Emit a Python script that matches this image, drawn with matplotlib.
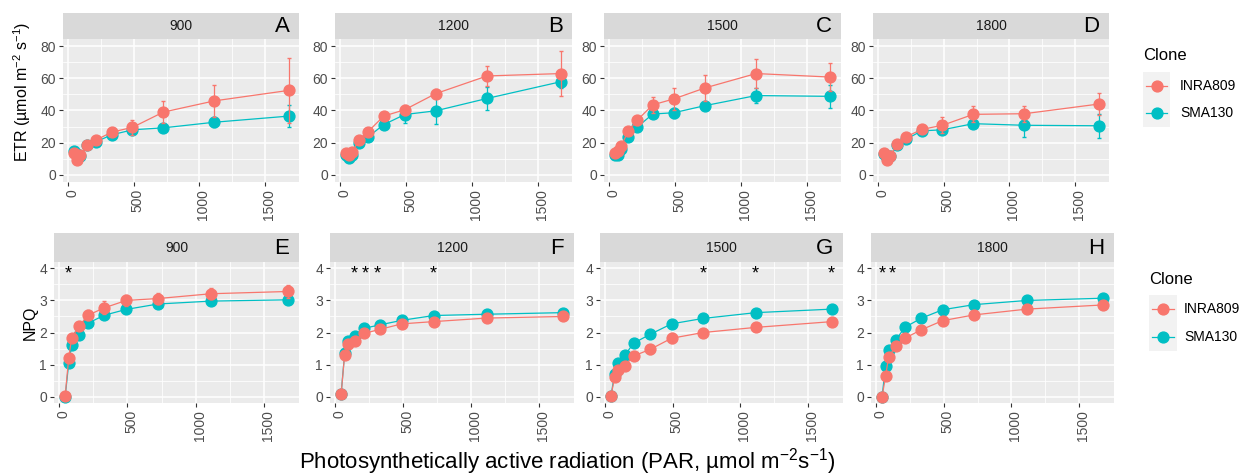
import numpy as np
import matplotlib
matplotlib.use("Agg")
import matplotlib.pyplot as plt
import matplotlib.transforms as mtrans

plt.rcParams['font.family'] = ['Liberation Sans', 'DejaVu Sans']
plt.rcParams['mathtext.fontset'] = 'custom'
plt.rcParams['mathtext.rm'] = 'Liberation Sans'
plt.rcParams['mathtext.it'] = 'Liberation Sans:italic'

# ---- data ----
par = [42, 68, 90, 145, 210, 330, 490, 725, 1115, 1680]
levels = ['900', '1200', '1500', '1800']
clones = ['INRA809', 'SMA130']

etr_inra = {
    '900':  [13.8, 9.5, 12.0, 18.5, 21.5, 26.5, 29.5, 39.0, 46.0, 52.5],
    '1200': [13.5, 12.0, 14.3, 21.8, 26.8, 36.5, 40.5, 50.5, 61.5, 63.0],
    '1500': [13.5, 15.0, 18.0, 27.2, 33.8, 43.5, 47.2, 54.0, 63.0, 60.8],
    '1800': [13.4, 9.2, 11.8, 19.0, 23.5, 28.2, 30.8, 37.6, 38.0, 44.0],
}
etr_inra_se = {
    '900':  [1.5, 1.5, 1.5, 2.0, 2.0, 2.0, 4.5, 7.0, 10.0, 20.0],
    '1200': [1.0, 1.0, 1.5, 2.0, 2.0, 2.5, 3.0, 3.0, 6.5, 14.0],
    '1500': [1.0, 1.5, 2.0, 2.5, 3.0, 5.0, 7.0, 8.0, 9.0, 8.5],
    '1800': [1.0, 1.0, 1.5, 2.0, 2.0, 2.5, 5.0, 5.0, 5.0, 7.0],
}
etr_sma = {
    '900':  [14.5, 13.0, 11.5, 18.5, 20.5, 24.8, 28.0, 29.2, 32.7, 36.5],
    '1200': [12.5, 10.2, 12.5, 19.5, 23.5, 31.2, 37.5, 39.8, 47.5, 58.0],
    '1500': [12.5, 12.0, 16.0, 23.8, 29.5, 37.8, 38.6, 43.0, 49.3, 48.8],
    '1800': [13.0, 10.5, 11.5, 18.4, 22.0, 27.3, 28.0, 31.8, 30.8, 30.5],
}
etr_sma_se = {
    '900':  [1.5, 1.5, 1.5, 1.5, 1.5, 2.0, 2.0, 2.0, 3.0, 7.0],
    '1200': [1.0, 1.0, 1.5, 2.0, 2.0, 3.0, 5.5, 8.0, 7.0, 4.0],
    '1500': [1.0, 1.0, 1.5, 2.0, 2.0, 2.5, 3.0, 2.5, 4.5, 7.0],
    '1800': [1.0, 1.0, 1.0, 1.5, 1.5, 2.0, 2.0, 3.0, 7.5, 7.5],
}

npq_inra = {
    '900':  [0.02, 1.20, 1.84, 2.20, 2.54, 2.77, 3.00, 3.06, 3.21, 3.28],
    '1200': [0.08, 1.31, 1.64, 1.75, 1.97, 2.10, 2.27, 2.34, 2.45, 2.50],
    '1500': [0.03, 0.60, 0.82, 0.97, 1.27, 1.47, 1.82, 2.00, 2.16, 2.34],
    '1800': [0.00, 0.63, 1.23, 1.59, 1.82, 2.08, 2.37, 2.55, 2.73, 2.86],
}
npq_inra_se = {
    '900':  [0.02, 0.10, 0.10, 0.12, 0.15, 0.20, 0.18, 0.18, 0.18, 0.20],
    '1200': [0.02, 0.08, 0.06, 0.06, 0.05, 0.06, 0.06, 0.06, 0.06, 0.06],
    '1500': [0.02, 0.10, 0.10, 0.12, 0.12, 0.15, 0.15, 0.12, 0.10, 0.08],
    '1800': [0.02, 0.08, 0.08, 0.08, 0.08, 0.10, 0.12, 0.10, 0.08, 0.08],
}
npq_sma = {
    '900':  [0.00, 1.04, 1.60, 1.92, 2.29, 2.54, 2.72, 2.89, 2.98, 3.02],
    '1200': [0.08, 1.35, 1.72, 1.88, 2.13, 2.24, 2.38, 2.53, 2.57, 2.62],
    '1500': [0.03, 0.72, 1.05, 1.30, 1.67, 1.94, 2.27, 2.44, 2.62, 2.73],
    '1800': [0.00, 0.95, 1.46, 1.77, 2.16, 2.44, 2.71, 2.87, 3.00, 3.07],
}
npq_sma_se = {
    '900':  [0.02, 0.06, 0.06, 0.06, 0.06, 0.06, 0.06, 0.06, 0.06, 0.06],
    '1200': [0.02, 0.06, 0.05, 0.05, 0.05, 0.05, 0.05, 0.05, 0.05, 0.05],
    '1500': [0.02, 0.06, 0.06, 0.06, 0.06, 0.06, 0.06, 0.06, 0.06, 0.06],
    '1800': [0.02, 0.06, 0.06, 0.06, 0.06, 0.06, 0.06, 0.06, 0.06, 0.06],
}

# significance stars (PAR positions) in NPQ panels
stars = {'900': [65], '1200': [140, 220, 305, 720], '1500': [725, 1110, 1670], '1800': [40, 120]}

top_letters = ['A', 'B', 'C', 'D']
bot_letters = ['E', 'F', 'G', 'H']

RED = '#F8766D'
CYAN = '#00BFC4'

W, H = 1242, 475
fig = plt.figure(figsize=(W / 100, H / 100), dpi=100)


def rect(l, t, r, b):
    return [l / W, 1 - b / H, (r - l) / W, (b - t) / H]


def style_panel(ax, ylim, yticks, yminor):
    ax.set_facecolor('#EBEBEB')
    ax.set_xlim(-40, 1760)
    ax.set_ylim(*ylim)
    ax.set_xticks([0, 500, 1000, 1500])
    ax.set_xticks([250, 750, 1250], minor=True)
    ax.set_yticks(yticks)
    ax.set_yticks(yminor, minor=True)
    ax.grid(True, which='major', color='white', lw=1.1)
    ax.grid(True, which='minor', color='white', lw=0.55)
    ax.set_axisbelow(True)
    for s in ax.spines.values():
        s.set_visible(False)
    ax.tick_params(which='major', length=3, color='#333333', labelcolor='#4D4D4D',
                   labelsize=10, pad=2)
    ax.tick_params(which='minor', length=0)
    ax.tick_params(axis='x', labelrotation=90)
    off = mtrans.ScaledTranslation(4 / 100, 0, fig.dpi_scale_trans)
    for lab in ax.get_xticklabels():
        lab.set_transform(lab.get_transform() + off)


def strip(l, t, r, b, label, letter):
    sa = fig.add_axes(rect(l, t, r, b))
    sa.set_facecolor('#D9D9D9')
    sa.set_xticks([])
    sa.set_yticks([])
    for s in sa.spines.values():
        s.set_visible(False)
    sa.text(0.5, 0.5, label, ha='center', va='center', fontsize=10, color='#1A1A1A',
            transform=sa.transAxes)
    sa.text(0.96, 0.48, letter, ha='right', va='center', fontsize=16, color='black',
            transform=sa.transAxes)


def draw(ax, y1, e1, y2, e2):
    ax.errorbar(par, y2, yerr=e2, color=CYAN, lw=0.9, elinewidth=0.9, capsize=1.2,
                marker='o', ms=7.8, mec=CYAN, zorder=3)
    ax.errorbar(par, y1, yerr=e1, color=RED, lw=0.9, elinewidth=0.9, capsize=1.2,
                marker='o', ms=7.8, mec=RED, zorder=4)


top_x = [(63, 299), (335, 572), (604, 841), (873, 1109)]
bot_x = [(54, 299), (330, 574), (600, 843), (871, 1114)]

for i, lev in enumerate(levels):
    l, r = top_x[i]
    strip(l, 13, r, 39, lev, top_letters[i])
    ax = fig.add_axes(rect(l, 39, r, 182))
    draw(ax, etr_inra[lev], etr_inra_se[lev], etr_sma[lev], etr_sma_se[lev])
    style_panel(ax, (-4.5, 84.5), [0, 20, 40, 60, 80], [10, 30, 50, 70])

    l, r = bot_x[i]
    strip(l, 233, r, 262, lev, bot_letters[i])
    ax = fig.add_axes(rect(l, 262, r, 403))
    draw(ax, npq_inra[lev], npq_inra_se[lev], npq_sma[lev], npq_sma_se[lev])
    style_panel(ax, (-0.2, 4.2), [0, 1, 2, 3, 4], [0.5, 1.5, 2.5, 3.5])
    for sx in stars[lev]:
        ax.text(sx, 3.82, '*', ha='center', va='center', fontsize=13, color='black')

# axis titles
fig.text(22 / W, 1 - 92 / H, 'ETR (µmol m$^{-2}$ s$^{-1}$)', rotation=90,
         ha='center', va='center', fontsize=11.5)
fig.text(30 / W, 1 - 323 / H, 'NPQ', rotation=90, ha='center', va='center', fontsize=11.5)
fig.text(567 / W, 1 - 462 / H, 'Photosynthetically active radiation (PAR, µmol m$^{-2}$s$^{-1}$)',
         ha='center', va='center', fontsize=16)


def legend(l, t, r, b, title_y, text_x):
    fig.text(l / W, 1 - title_y / H, 'Clone', ha='left', va='center', fontsize=12)
    la = fig.add_axes(rect(l, t, r, b))
    la.set_facecolor('#F2F2F2')
    la.set_xlim(0, 1)
    la.set_ylim(0, 2)
    la.set_xticks([])
    la.set_yticks([])
    for s in la.spines.values():
        s.set_visible(False)
    rows = b - t
    for k, (name, col) in enumerate(zip(clones, [RED, CYAN])):
        yy = 1.5 - k
        la.plot([0.1, 0.9], [yy, yy], color=col, lw=0.9)
        la.plot([0.5], [yy], marker='o', ms=7.8, color=col)
        ypix = t + rows * (0.25 + 0.5 * k)
        fig.text(text_x / W, 1 - ypix / H, name, ha='left', va='center', fontsize=10)


legend(1143, 72, 1170, 127, 55, 1180)
legend(1149, 295, 1177, 351, 279, 1184)

fig.savefig('out.png', dpi=100)
